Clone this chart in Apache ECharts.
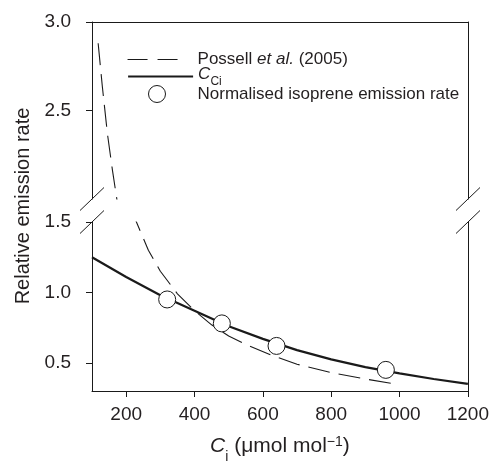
<!DOCTYPE html>
<html><head><meta charset="utf-8">
<script src="https://cdn.jsdelivr.net/npm/echarts@6/dist/echarts.min.js"></script>
<style>html,body{margin:0;padding:0;background:#fff}#c{width:492px;height:465px}</style>
</head><body><div id="c"></div>
<script>
// ---- data ----
const possellCi   = [118, 130, 145, 160, 175, 200, 230, 265, 300, 350, 400, 450, 500, 560, 630, 700, 800, 900, 1000];
const possellRate = [2.88, 2.64, 2.37, 2.16, 1.97, 1.72, 1.50, 1.30, 1.15, 0.99, 0.87, 0.77, 0.69, 0.62, 0.55, 0.49, 0.43, 0.385, 0.345];
const cciCi   = [100, 200, 300, 400, 500, 600, 700, 800, 900, 1000, 1100, 1200];
const cciRate = [1.25, 1.11, 0.98, 0.87, 0.76, 0.67, 0.59, 0.525, 0.47, 0.425, 0.385, 0.35];
const obsCi   = [320, 480, 640, 960];
const obsRate = [0.95, 0.78, 0.62, 0.45];
const xTicks = [200, 400, 600, 800, 1000, 1200];
const yTicksTop = [2.5, 3.0];
const yTicksBottom = [0.5, 1.0, 1.5];

const zip = (a, b) => a.map((v, i) => [v, b[i]]);
const FONT = '"Liberation Sans", Arial, sans-serif';
const TXT = '#231f20';
const LINE = '#1a1a1a';

const GL = 92, GR = 24, T1 = 22, H1 = 177, T2 = 222, H2 = 176, W = 492;

const chart = echarts.init(document.getElementById('c'), null, {renderer: 'canvas'});

const lineOnlyAxis = (extra) => Object.assign({
  type: 'value',
  axisLine: {show: true, onZero: false, lineStyle: {color: LINE, width: 1}},
  axisTick: {show: false}, axisLabel: {show: false}, splitLine: {show: false}
}, extra);

const tickAxis = (extra, ticks, fmt, margin) => Object.assign({
  type: 'value',
  axisLine: {show: true, onZero: false, lineStyle: {color: LINE, width: 1}},
  axisTick: {show: true, inside: false, length: 6, customValues: ticks, lineStyle: {color: LINE, width: 1}},
  axisLabel: {show: true, customValues: ticks, formatter: fmt, margin: margin, fontSize: 19, fontFamily: FONT, color: TXT},
  splitLine: {show: false}
}, extra);

const breakMark = (cx, cy) => ({
  type: 'line', silent: true,
  shape: {x1: cx - 12, y1: cy + 11.5, x2: cx + 12, y2: cy - 11.5},
  style: {stroke: LINE, lineWidth: 1}
});

const LF = 17;
const baseRich = {
  n: {fontSize: LF, fontFamily: FONT, color: TXT, lineHeight: 20},
  it: {fontSize: LF, fontFamily: FONT, color: TXT, fontStyle: 'italic', lineHeight: 20},
  sub: {fontSize: 12, fontFamily: FONT, color: TXT, lineHeight: 20, verticalAlign: 'bottom', padding: [0, 0, -3, 0]}
};

const option = {
  animation: false,
  backgroundColor: '#fff',
  color: [LINE],
  grid: [
    {left: GL, right: GR, top: T1, height: H1},
    {left: GL, right: GR, top: T2, height: H2}
  ],
  xAxis: [
    lineOnlyAxis({gridIndex: 0, min: 100, max: 1200, position: 'top'}),
    tickAxis({
      gridIndex: 1, min: 100, max: 1200, position: 'bottom',
      name: '{it|C}{sub|i}{n| (μmol mol}{sup|−1}{n|)}',
      nameLocation: 'middle', nameGap: 42,
      nameTextStyle: {
        rich: {
          n: {fontSize: 21, fontFamily: FONT, color: TXT, lineHeight: 26},
          it: {fontSize: 21, fontFamily: FONT, color: TXT, fontStyle: 'italic', lineHeight: 26},
          sub: {fontSize: 14, fontFamily: FONT, color: TXT, lineHeight: 26, verticalAlign: 'bottom', padding: [0, 0, -5, 0]},
          sup: {fontSize: 14, fontFamily: FONT, color: TXT, lineHeight: 26, verticalAlign: 'top', padding: [2, 0, 0, 0]}
        }
      }
    }, xTicks, v => String(v), 14)
  ],
  yAxis: [
    tickAxis({gridIndex: 0, min: 2.0, max: 3.0, position: 'left'}, yTicksTop, v => v.toFixed(1), 21),
    lineOnlyAxis({gridIndex: 0, min: 2.0, max: 3.0, position: 'right'}),
    tickAxis({gridIndex: 1, min: 0.3, max: 1.5, position: 'left'}, yTicksBottom, v => v.toFixed(1), 21),
    lineOnlyAxis({gridIndex: 1, min: 0.3, max: 1.5, position: 'right'})
  ],
  legend: [
    {
      data: ['possell'], left: 127, top: 51, padding: 0, itemWidth: 51, itemHeight: 14,
      itemStyle: {opacity: 0},
      lineStyle: {type: [20, 10], width: 1.1, color: LINE},
      formatter: () => '{n|Possell }{it|et al.}{n| (2005)}',
      textStyle: {padding: [0, 0, 0, 14], rich: baseRich}
    },
    {
      data: ['cci'], left: 127, top: 66, padding: 0, itemWidth: 65, itemHeight: 24,
      itemStyle: {opacity: 0},
      lineStyle: {type: 'solid', width: 2.2, color: LINE},
      formatter: () => '{it|C}{sub|Ci}',
      textStyle: {padding: [0, 0, 4, 0], rich: baseRich}
    },
    {
      data: ['obs'], left: 148, top: 85, padding: 0, itemWidth: 17, itemHeight: 17,
      itemStyle: {color: '#fff', borderColor: LINE, borderWidth: 1},
      formatter: () => '{n|Normalised isoprene emission rate}',
      textStyle: {padding: [0, 0, 0, 27], rich: baseRich}
    }
  ],
  graphic: [
    {
      type: 'text', silent: true,
      x: 23, y: 206, rotation: Math.PI / 2,
      style: {text: 'Relative emission rate', fontSize: 20, fontFamily: FONT, fill: TXT, align: 'center', verticalAlign: 'middle'}
    },
    breakMark(GL, T1 + H1), breakMark(GL, T2),
    breakMark(W - GR, T1 + H1), breakMark(W - GR, T2)
  ],
  series: [
    {
      name: 'possell', type: 'line', xAxisIndex: 0, yAxisIndex: 0,
      data: zip(possellCi, possellRate), symbol: 'none', smooth: false, clip: true,
      itemStyle: {color: LINE},
      lineStyle: {color: LINE, width: 1.1, type: [22, 9]}
    },
    {
      name: 'possell', type: 'line', xAxisIndex: 1, yAxisIndex: 2,
      data: zip(possellCi, possellRate), symbol: 'none', smooth: false, clip: true,
      itemStyle: {color: LINE},
      lineStyle: {color: LINE, width: 1.1, type: [22, 9]}
    },
    {
      name: 'cci', type: 'line', xAxisIndex: 1, yAxisIndex: 2,
      data: zip(cciCi, cciRate), symbol: 'none', smooth: false, clip: true,
      itemStyle: {color: LINE},
      lineStyle: {color: LINE, width: 2.2, type: 'solid'}
    },
    {
      name: 'obs', type: 'scatter', xAxisIndex: 1, yAxisIndex: 2, z: 5,
      data: zip(obsCi, obsRate), symbol: 'circle', symbolSize: 17,
      itemStyle: {color: '#fff', borderColor: LINE, borderWidth: 1, opacity: 1}
    }
  ]
};
chart.setOption(option);
</script>
</body></html>
